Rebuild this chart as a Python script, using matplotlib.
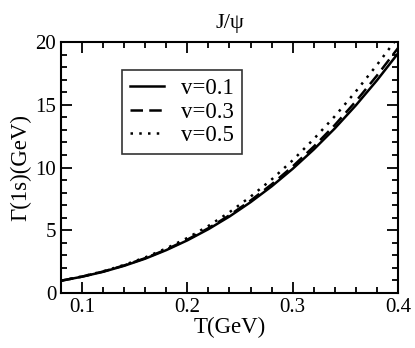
import numpy as np
import matplotlib
import matplotlib.pyplot as plt
from matplotlib.ticker import MultipleLocator

matplotlib.rcParams.update({'font.family': 'Liberation Serif', 'font.size': 15})

# temperature grid (GeV)
T = [0.08, 0.10, 0.12, 0.14, 0.16, 0.18, 0.20, 0.22, 0.24, 0.26,
     0.28, 0.30, 0.32, 0.34, 0.36, 0.38, 0.40]

# width Gamma(1s) in GeV for each velocity
gamma_v01 = [0.98, 1.30, 1.69, 2.17, 2.74, 3.42, 4.20, 5.09, 6.10, 7.24,
             8.50, 9.90, 11.44, 13.12, 14.96, 16.95, 19.10]
gamma_v03 = [0.98, 1.31, 1.71, 2.20, 2.78, 3.47, 4.26, 5.17, 6.20, 7.37,
             8.66, 10.09, 11.67, 13.39, 15.28, 17.33, 19.52]
gamma_v05 = [0.98, 1.32, 1.73, 2.24, 2.84, 3.56, 4.39, 5.35, 6.44, 7.68,
             9.05, 10.58, 12.27, 14.09, 16.07, 18.18, 20.40]

labels = ['v=0.1', 'v=0.3', 'v=0.5']

fig = plt.figure(figsize=(4.15, 3.48), dpi=100)
ax = fig.add_axes([0.147, 0.158, 0.812, 0.721])

ax.plot(T, gamma_v01, color='black', lw=1.8, ls='-', label=labels[0])
ax.plot(T, gamma_v03, color='black', lw=1.8, ls=(0, (5, 2.5)), label=labels[1])
ax.plot(T, gamma_v05, color='black', lw=1.8, ls=(0, (1, 2.5)), label=labels[2])

ax.set_xlim(0.08, 0.4)
ax.set_ylim(0, 20)
ax.xaxis.set_major_locator(MultipleLocator(0.1))
ax.xaxis.set_minor_locator(MultipleLocator(0.02))
ax.yaxis.set_major_locator(MultipleLocator(5))
ax.yaxis.set_minor_locator(MultipleLocator(1))
ax.tick_params(which='both', direction='in', top=True, right=True, width=1.3)
ax.tick_params(which='major', length=8)
ax.tick_params(which='minor', length=4.5)
for s in ax.spines.values():
    s.set_linewidth(1.5)

ax.set_xlabel('T(GeV)', fontsize=16.5, labelpad=0)
ax.set_ylabel('Γ(1s)(GeV)', fontsize=16.5, labelpad=3)
ax.set_title('J/ψ', fontsize=16, pad=10)

leg = ax.legend(loc='upper left', bbox_to_anchor=(0.18, 0.888), frameon=True,
                fancybox=False, edgecolor='black', fontsize=16.5,
                handlelength=1.5, borderpad=0.35, borderaxespad=0,
                labelspacing=0.1, handletextpad=0.75)
leg.get_frame().set_linewidth(1.2)

fig.savefig('out.png', dpi=100)
